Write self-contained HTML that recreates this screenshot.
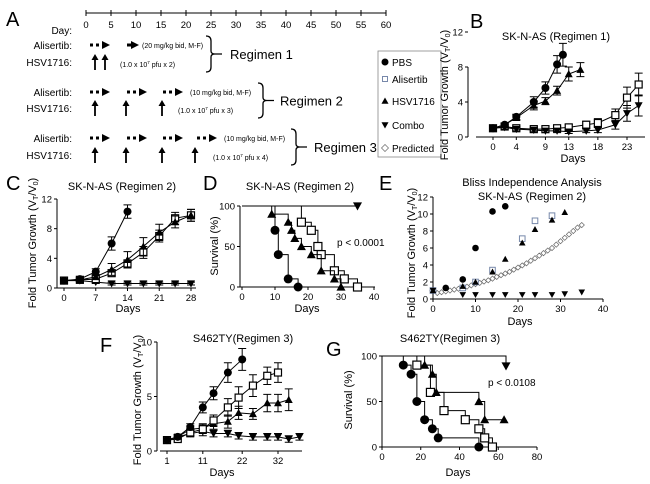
<!DOCTYPE html>
<html><head><meta charset="utf-8"><style>
html,body{margin:0;padding:0;background:#fff;}
svg{display:block;font-family:"Liberation Sans",Arial,sans-serif;}
</style></head><body>
<svg id="fig" width="650" height="484" viewBox="0 0 650 484" xmlns="http://www.w3.org/2000/svg">
<g id="panelA" font-size="10">
 <text x="6" y="26" font-size="20">A</text>
 <text x="72" y="34" text-anchor="end" font-size="10">Day:</text>
 <g id="timeline"></g>
 <g id="regimens"></g>
 <rect x="378" y="51" width="63" height="106" fill="none" stroke="#888" stroke-width="0.8"/>
 <g id="legend"></g>
</g>
<g id="plots"></g>
</svg>
<script>
// ---------- data ----------
const tlTicks = [0,5,10,15,20,25,30,35,40,45,50,55,60];
const legendLabels = ["PBS","Alisertib","HSV1716","Combo","Predicted"];
// Panel B
const bDaysP=[0,2,4,7,9,11,12], bPBS=[1,1.4,2.3,4,5.6,8.3,9.4], bPBSe=[0.2,0.2,0.3,0.6,0.7,1,1.3];
const bDaysH=[0,2,4,7,9,11,13,15], bHSV=[1,1.4,2.2,3.6,4.1,5.3,7.2,7.7], bHSVe=[0.2,0.2,0.3,0.5,0.4,0.5,0.8,0.8];
const bDaysA=[0,2,4,7,9,11,13,16,18,21,23,25], bALI=[1,1.2,1,0.9,0.9,1,1.1,1.4,1.6,2.5,4.5,6], bALIe=[0.2,0.2,0.2,0.2,0.2,0.2,0.3,0.4,0.5,0.7,1.2,1.3];
const bCOM=[1,1.1,0.9,0.8,0.7,0.7,0.6,0.7,0.8,1.4,2.7,3.6], bCOMe=[0.2,0.2,0.2,0.2,0.2,0.2,0.2,0.2,0.3,0.5,0.9,1.2];
const bTicksX=[0,4,9,13,18,23], bTicksY=[0,4,8,12];
// Panel C
const cDaysP=[0,3.5,7,10.5,14], cPBS=[1,1.2,2.2,6,10.3], cPBSe=[0.2,0.2,0.4,0.9,0.9];
const cDays=[0,3.5,7,10.5,14,17.5,21,24.5,28];
const cHSV=[1,1.1,1.5,2.5,3.8,5.6,7.5,8.9,9.8], cHSVe=[0.2,0.2,0.3,0.8,1.1,1.2,1.1,0.8,0.8];
const cALI=[1,1.1,1.2,2,3.3,4.8,7,9.4,9.8], cALIe=[0.2,0.2,0.3,0.4,0.5,0.8,0.8,0.8,0.8];
const cCOM=[1,1,0.8,0.6,0.6,0.6,0.6,0.6,0.6], cCOMe=[0.1,0.1,0.2,0.2,0.2,0.2,0.2,0.2,0.2];
const cTicksX=[0,7,14,21,28], cTicksY=[0,4,8,12];
// Panel D (survival)
const dPBSt=[0,10,11,14,17], dPBSs=[100,70,40,10,0];
const dHSVt=[0,9,14,15,16,18,21,24,28,30], dHSVs=[100,90,80,70,60,50,40,20,10,0];
const dALIt=[0,18,21,23,24,28,31,35], dALIs=[100,80,70,50,40,20,10,0];
const dCOMt=[0,35], dCOMs=[100,100];
const dTicksX=[0,10,20,30,40], dTicksY=[0,50,100];
// Panel E
const eDaysP=[0,3,7,10,14,17], ePBS=[1,1.3,2.3,6,10.3,10.9];
const eDaysA=[0,7,10,14,21,24,28], eALI=[1,1.3,2,3.4,7.1,9.2,9.8];
const eDaysH=[0,7,10,14,17,21,24,28,31], eHSV=[1,1.5,2,3.2,4.7,6.6,8.2,9.3,10.2];
const eDaysC=[0,7,10,14,17,21,24,28,31,35], eCOM=[1,0.5,0.5,0.5,0.5,0.5,0.5,0.5,0.6,0.8];
const eDaysPr=[1,2,3,4,5,6,7,8,9,10,11,12,13,14,15,16,17,18,19,20,21,22,23,24,25,26,27,28,29,30,31,32,33,34,35];
const ePRE=[0.7,0.8,0.9,1.0,1.1,1.2,1.3,1.45,1.6,1.75,1.9,2.05,2.2,2.4,2.6,2.8,3.0,3.2,3.45,3.7,3.95,4.2,4.5,4.8,5.1,5.4,5.7,6.0,6.4,6.8,7.2,7.6,8.0,8.4,8.7];
const eTicksX=[0,10,20,30,40], eTicksY=[0,2,4,6,8,10,12];
// Panel F
const fDaysP=[1,4,7.5,11,14,18,22], fPBS=[1,1.3,2.2,4,5.3,7.2,8.4], fPBSe=[0.1,0.2,0.3,0.5,0.6,0.9,1];
const fDaysA=[1,4,7.5,11,14,18,21,25,29,32], fALI=[1,1.1,1.7,2,2.8,4,4.9,6,6.9,7.2], fALIe=[0.1,0.2,0.3,0.4,0.5,0.8,1,1,0.8,0.9];
const fDaysH=[1,4,7.5,11,14,18,21,25,29,32,35], fHSV=[1,1.3,2,2.1,2.5,2.7,3.5,3.4,4.4,4.4,4.7], fHSVe=[0.1,0.2,0.3,0.4,0.5,0.6,0.6,0.5,0.8,0.8,1];
const fDaysC=[1,4,7.5,11,14,18,21,25,29,32,35,38], fCOM=[1,1.3,1.6,1.8,1.6,1.6,1.4,1.3,1.3,1.3,1.1,1.3], fCOMe=[0.1,0.2,0.3,0.4,0.3,0.3,0.3,0.3,0.3,0.3,0.3,0.3];
const fTicksX=[1,11,22,32], fTicksY=[0,5,10];
// Panel G
const gPBSt=[0,11,15,18,22,26,29,50], gPBSs=[100,90,80,50,30,20,10,0];
const gALIt=[0,18,25,32,43,50,53,57], gALIs=[100,90,60,40,30,20,10,0];
const gHSVt=[0,22,26,28,50,53,63], gHSVs=[100,90,80,60,50,30,30];
const gCOMt=[0,64], gCOMs=[100,89];
const gTicksX=[0,20,40,60,80], gTicksY=[0,50,100];

// ---------- helpers ----------
const NS="http://www.w3.org/2000/svg";
function mk(tag,attrs,parent,txt){const e=document.createElementNS(NS,tag);for(const k in attrs)e.setAttribute(k,attrs[k]);if(txt!==undefined)e.textContent=txt;parent.appendChild(e);return e;}
function marker(g,type,x,y,s){s=s||4;
 if(type==='circle')return mk('circle',{cx:x,cy:y,r:s,fill:'#000'},g);
 if(type==='square')return mk('rect',{x:x-s+0.5,y:y-s+0.5,width:2*s-1,height:2*s-1,fill:'#fff',stroke:'#000','stroke-width':1.2},g);
 if(type==='squareGray')return mk('rect',{x:x-s+1,y:y-s+1,width:2*s-2,height:2*s-2,fill:'#fff',stroke:'#7788aa','stroke-width':1},g);
 if(type==='up')return mk('polygon',{points:`${x},${y-s} ${x-s},${y+s*0.8} ${x+s},${y+s*0.8}`,fill:'#000'},g);
 if(type==='down')return mk('polygon',{points:`${x},${y+s} ${x-s},${y-s*0.8} ${x+s},${y-s*0.8}`,fill:'#000'},g);
 if(type==='diamond')return mk('polygon',{points:`${x},${y-s} ${x+s},${y} ${x},${y+s} ${x-s},${y}`,fill:'#fff',stroke:'#666','stroke-width':0.7},g);
}
const root=document.getElementById('plots');
function axes(cfg){
 const g=mk('g',{},root);
 
 
 const X=v=>cfg.x0+(v-cfg.xmin)/(cfg.xmax-cfg.xmin)*(cfg.x1-cfg.x0);
 const Y=v=>cfg.y0-(v-cfg.ymin)/(cfg.ymax-cfg.ymin)*(cfg.y0-cfg.y1);
 const ax=mk('g',{stroke:'#000','stroke-width':1},g);
 mk('line',{x1:cfg.ax,y1:cfg.y0,x2:cfg.ax,y2:cfg.y1},ax);
 mk('line',{x1:cfg.ayx,y1:cfg.ay,x2:cfg.x2||cfg.x1,y2:cfg.ay},ax);
 cfg.tx.forEach(t=>{mk('line',{x1:X(t),y1:cfg.ay,x2:X(t),y2:cfg.ay+3},ax);
  const e=mk('text',{x:X(t),y:cfg.ay+13,'text-anchor':'middle','font-size':9.5,stroke:'none'},g,t);
  });
 cfg.ty.forEach(t=>{mk('line',{x1:cfg.ax-3,y1:Y(t),x2:cfg.ax,y2:Y(t)},ax);
  const e=mk('text',{x:cfg.ax-5,y:Y(t)+3.5,'text-anchor':'end','font-size':9.5,stroke:'none'},g,t);
  });
 const xl=mk('text',{x:cfg.xlx,y:cfg.xly,'text-anchor':'middle','font-size':11},g,'Days');
 
 const yl=mk('text',{transform:`translate(${cfg.ylx},${cfg.yly}) rotate(-90)`,'text-anchor':'middle','font-size':11},g);
 
 if(cfg.surv){yl.textContent='Survival (%)';}
 else{mk('tspan',{},yl,'Fold Tumor Growth (V');mk('tspan',{'font-size':7,dy:2},yl,'T');mk('tspan',{dy:-2},yl,'/V');mk('tspan',{'font-size':7,dy:2},yl,'0');mk('tspan',{dy:-2},yl,')');}
 if(cfg.title){cfg.title.forEach((t,i)=>{const e=mk('text',{x:cfg.tx0,y:cfg.ty0+i*14,'text-anchor':'middle','font-size':11},g,t);});}
 const L=mk('text',{x:cfg.lx,y:cfg.ly,'font-size':20},g,cfg.label);
 
 return {g,X,Y};
}
function series(P,name,xs,ys,es,type,line,ms){
 const g=mk('g',{},P.g);
 
 
 if(line)mk('polyline',{points:xs.map((x,i)=>P.X(x)+','+P.Y(ys[i])).join(' '),fill:'none',stroke:'#000','stroke-width':1},g);
 if(es)xs.forEach((x,i)=>{const px=P.X(x),a=P.Y(ys[i]+es[i]),b=P.Y(Math.max(0,ys[i]-es[i]));
  mk('path',{d:`M${px},${a}V${b}M${px-4},${a}H${px+4}M${px-4},${b}H${px+4}`,stroke:'#000','stroke-width':1,fill:'none'},g);});
 xs.forEach((x,i)=>{const m=marker(g,type,P.X(x),P.Y(ys[i]),ms);});
}
function steps(P,name,ts,ss,type){
 const g=mk('g',{},P.g);
 
 
 let d=`M${P.X(ts[0])},${P.Y(ss[0])}`;
 for(let i=1;i<ts.length;i++){d+=`H${P.X(ts[i])}V${P.Y(ss[i])}`;}
 mk('path',{d,fill:'none',stroke:'#000','stroke-width':1},g);
 for(let i=1;i<ts.length;i++){const m=marker(g,type,P.X(ts[i]),P.Y(ss[i]),4.5);}
}

// ---------- Panel A ----------
(function(){
 const tl=document.getElementById('timeline');
 const TX=d=>86+d*5;
 mk('line',{x1:TX(0),y1:13,x2:TX(60),y2:13,stroke:'#000','stroke-width':1},tl);
 tlTicks.forEach(t=>{mk('line',{x1:TX(t),y1:10,x2:TX(t),y2:16,stroke:'#000'},tl);
  const e=mk('text',{x:TX(t),y:28,'text-anchor':'middle','font-size':9.5},tl,t);
  });
 const R=document.getElementById('regimens');
 const regs=[
  {ya:45,yh:62,arrows:[[90,110],[127,139]],dots:[true,false],hsv:[95,105],dose:'(20 mg/kg bid, M-F)',dx:142,vx:120,vt:'(1.0 x 10',vn:'2',bx:206,rt:'Regimen  1',rx:230},
  {ya:92,yh:108,arrows:[[90,110],[127,147],[163,183]],dots:[true,true,true],hsv:[95,126,162],dose:'(10 mg/kg bid, M-F)',dx:190,vx:178,vt:'(1.0 x 10',vn:'3',bx:258,rt:'Regimen  2',rx:280},
  {ya:138,yh:155,arrows:[[90,110],[127,147],[163,183],[197,217]],dots:[true,true,true,true],hsv:[95,126,162,195],dose:'(10 mg/kg bid, M-F)',dx:224,vx:213,vt:'(1.0 x 10',vn:'4',bx:291,rt:'Regimen  3',rx:314}
 ];
 regs.forEach((r,ri)=>{
  const g=mk('g',{},R);
  
  
  mk('text',{x:72,y:r.ya+4,'text-anchor':'end','font-size':10},g,'Alisertib:');
  mk('text',{x:72,y:r.yh+4,'text-anchor':'end','font-size':10},g,'HSV1716:');
  r.arrows.forEach((a,i)=>{
   if(r.dots[i]){mk('rect',{x:a[0],y:r.ya-1.5,width:3,height:3},g);mk('rect',{x:a[0]+6,y:r.ya-1.5,width:3,height:3},g);}
   mk('line',{x1:r.dots[i]?a[0]+12:a[0],y1:r.ya,x2:a[1]-6,y2:r.ya,stroke:'#000','stroke-width':3},g);
   mk('polygon',{points:`${a[1]},${r.ya} ${a[1]-8},${r.ya-4} ${a[1]-8},${r.ya+4}`},g);
  });
  r.hsv.forEach(x=>{mk('line',{x1:x,y1:r.yh+8,x2:x,y2:r.yh-3,stroke:'#000','stroke-width':1.8},g);
   mk('polygon',{points:`${x},${r.yh-8} ${x-3.5},${r.yh-2} ${x+3.5},${r.yh-2}`},g);});
  mk('text',{x:r.dx,y:r.ya+3,'font-size':7},g,r.dose);
  const v=mk('text',{x:r.vx,y:r.yh+5,'font-size':7},g,r.vt);
  mk('tspan',{'font-size':4.5,dy:-3},v,'7');mk('tspan',{dy:3},v,' pfu  x '+r.vn+')');
  const t=r.ya-9,b=r.yh+10,m=(t+b)/2,bx=r.bx;
  mk('path',{d:`M${bx},${t} Q${bx+5},${t} ${bx+5},${t+5} V${m-3} Q${bx+5},${m} ${bx+9},${m} Q${bx+5},${m} ${bx+5},${m+3} V${b-5} Q${bx+5},${b} ${bx},${b} M${bx+9},${m} H${bx+16}`,fill:'none',stroke:'#000','stroke-width':1.3},g);
  mk('text',{x:r.rx,y:m+5,'font-size':13},g,r.rt);
 });
 const lg=document.getElementById('legend');
 const ty=['circle','square','up','down','diamond'],ly=[62,79,101,125,148];
 legendLabels.forEach((l,i)=>{
  const g=mk('g',{},lg);
  
  
  marker(g,ty[i]==='square'?'squareGray':ty[i],385,ly[i],3.5);
  mk('text',{x:392,y:ly[i]+4,'font-size':10},g,l);
 });
})();

// ---------- Panel B ----------
let P=axes({name:'panel-b-chart',label:'B',lx:470,ly:28,x0:493,x1:627,xmin:0,xmax:23,y0:137,y1:67,ymin:0,ymax:8,ax:468,ay:137,ayx:476,x2:645,tx:bTicksX,ty:bTicksY,xlx:573,xly:162,ylx:448,yly:95,title:['SK-N-AS (Regimen 1)'],tx0:556,ty0:40});
series(P,'series-alisertib',bDaysA,bALI,bALIe,'square',true);
series(P,'series-combo',bDaysA,bCOM,bCOMe,'down',true);
series(P,'series-hsv1716',bDaysH,bHSV,bHSVe,'up',true);
series(P,'series-pbs',bDaysP,bPBS,bPBSe,'circle',true);

// ---------- Panel C ----------
P=axes({name:'panel-c-chart',label:'C',lx:6,ly:190,x0:64,x1:191,xmin:0,xmax:28,y0:288,y1:199,ymin:0,ymax:12,ax:57,ay:288,ayx:57,x2:196,tx:cTicksX,ty:cTicksY,xlx:128,xly:312,ylx:36,yly:243,title:['SK-N-AS (Regimen 2)'],tx0:122,ty0:190});
series(P,'series-combo',cDays,cCOM,cCOMe,'down',true);
series(P,'series-alisertib',cDays,cALI,cALIe,'square',true);
series(P,'series-hsv1716',cDays,cHSV,cHSVe,'up',true);
series(P,'series-pbs',cDaysP,cPBS,cPBSe,'circle',true);

// ---------- Panel D ----------
P=axes({name:'panel-d-chart',label:'D',lx:203,ly:190,x0:242,x1:374,xmin:0,xmax:40,y0:287,y1:206,ymin:0,ymax:100,ax:240,ay:287,ayx:240,x2:375,tx:dTicksX,ty:dTicksY,xlx:307,xly:312,ylx:218,yly:246,title:['SK-N-AS (Regimen 2)'],tx0:300,ty0:190,surv:true});
steps(P,'series-alisertib',dALIt,dALIs,'square');
steps(P,'series-hsv1716',dHSVt,dHSVs,'up');
steps(P,'series-pbs',dPBSt,dPBSs,'circle');
steps(P,'series-combo',dCOMt,dCOMs,'down');
mk('text',{x:337,y:246,'font-size':10},P.g,'p < 0.0001');

// ---------- Panel E ----------
P=axes({name:'panel-e-chart',label:'E',lx:379,ly:190,x0:433,x1:603,xmin:0,xmax:40,y0:299,y1:197,ymin:0,ymax:12,ax:433,ay:299,ayx:433,x2:603,tx:eTicksX,ty:eTicksY,xlx:520,xly:325,ylx:415,yly:253,title:['Bliss Independence Analysis','SK-N-AS (Regimen 2)'],tx0:532,ty0:186});
series(P,'series-predicted',eDaysPr,ePRE,null,'diamond',false,2.6);
series(P,'series-pbs',eDaysP,ePBS,null,'circle',false,3.3);
series(P,'series-alisertib',eDaysA,eALI,null,'squareGray',false,3.8);
series(P,'series-hsv1716',eDaysH,eHSV,null,'up',false,3.3);
series(P,'series-combo',eDaysC,eCOM,null,'down',false,3.3);

// ---------- Panel F ----------
P=axes({name:'panel-f-chart',label:'F',lx:100,ly:352,x0:167,x1:278,xmin:1,xmax:32,y0:451,y1:342,ymin:0,ymax:10,ax:157,ay:451,ayx:160,x2:302,tx:fTicksX,ty:fTicksY,xlx:222,xly:476,ylx:141,yly:400,title:['S462TY(Regimen 3)'],tx0:243,ty0:342});
series(P,'series-combo',fDaysC,fCOM,fCOMe,'down',true);
series(P,'series-hsv1716',fDaysH,fHSV,fHSVe,'up',true);
series(P,'series-alisertib',fDaysA,fALI,fALIe,'square',true);
series(P,'series-pbs',fDaysP,fPBS,fPBSe,'circle',true);

// ---------- Panel G ----------
P=axes({name:'panel-g-chart',label:'G',lx:326,ly:356,x0:382,x1:537,xmin:0,xmax:80,y0:447,y1:356,ymin:0,ymax:100,ax:382,ay:447,ayx:382,x2:537,tx:gTicksX,ty:gTicksY,xlx:458,xly:476,ylx:352,yly:400,title:['S462TY(Regimen 3)'],tx0:450,ty0:342,surv:true});
steps(P,'series-alisertib',gALIt,gALIs,'square');
steps(P,'series-hsv1716',gHSVt,gHSVs,'up');
steps(P,'series-pbs',gPBSt,gPBSs,'circle');
steps(P,'series-combo',gCOMt,gCOMs,'down');
mk('text',{x:488,y:386,'font-size':10},P.g,'p < 0.0108');
</script>
</body></html>
